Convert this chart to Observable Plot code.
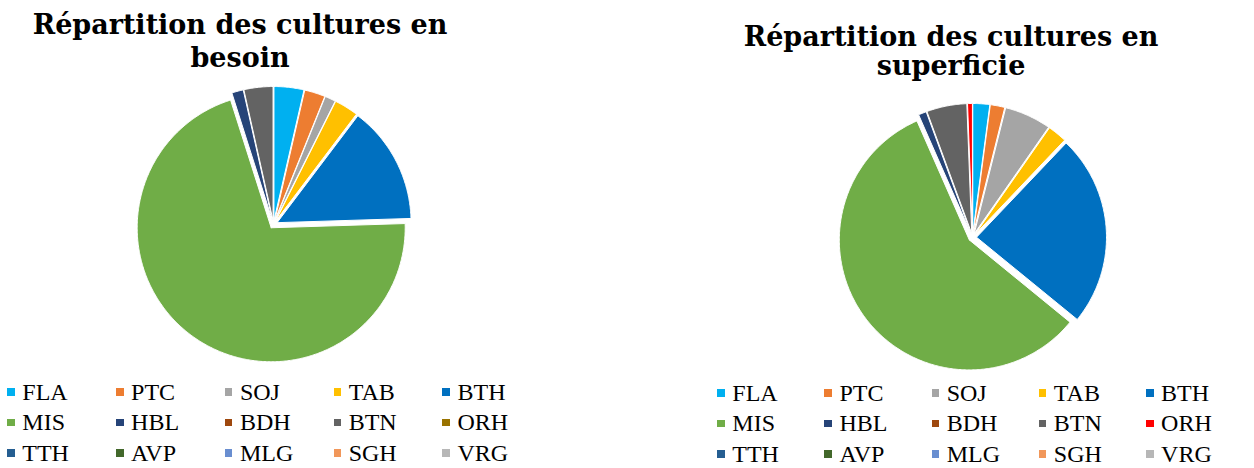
<!DOCTYPE html>
<html><head><meta charset="utf-8">
<script src="https://cdn.jsdelivr.net/npm/d3@7"></script>
<script src="https://cdn.jsdelivr.net/npm/@observablehq/plot@0.6"></script>
<style>
body{margin:0;width:1254px;height:468px;position:relative;overflow:hidden;background:#fff;}
.tline{position:absolute;width:600px;font-family:"DejaVu Serif",serif;font-weight:bold;font-size:27px;text-align:center;white-space:nowrap;line-height:32px;color:#000}
.legend{position:absolute;display:grid;grid-auto-rows:30.5px;font-family:"Liberation Serif","Times New Roman",Tinos,Times,serif;font-size:24px;color:#000}
.item{display:flex;align-items:center;line-height:30.5px;white-space:nowrap}
.sw{width:7.5px;height:7.5px;margin-right:7.5px;flex:none}
.pie{position:absolute}
</style></head><body>
<script>
// ---- data ----
const categories = ["FLA","PTC","SOJ","TAB","BTH","MIS","HBL","BDH","BTN","ORH","TTH","AVP","MLG","SGH","VRG"];
const besoinValues     = [3.6, 2.5, 1.3, 2.9, 14.2, 70.6, 1.4, 0, 3.5, 0, 0, 0, 0, 0, 0];
const superficieValues = [2.1, 1.8, 5.8, 2.4, 23.8, 57.5, 1.0, 0, 5.0, 0.6, 0, 0, 0, 0, 0];
const colorsBesoin     = ["#00B0F0","#ED7D31","#A5A5A5","#FFC000","#0070C0","#70AD47","#264478","#9E480E","#636363","#997300","#255E91","#43682B","#698ED0","#F1975A","#B7B7B7"];
const colorsSuperficie = ["#00B0F0","#ED7D31","#A5A5A5","#FFC000","#0070C0","#70AD47","#264478","#9E480E","#636363","#FF0000","#255E91","#43682B","#698ED0","#F1975A","#B7B7B7"];
const titleBesoin     = ["Répartition des cultures en", "besoin"];
const titleSuperficie = ["Répartition des cultures en", "superficie"];

// ---- layout ----
const charts = [
  {values: besoinValues, colors: colorsBesoin, title: titleBesoin, cx: 272.5, cy: 223.5, R: 134, d: 4,
   tcx: 240, tb: [34, 67], lx: 7.3, ly: 376.7, col: 108.8},
  {values: superficieValues, colors: colorsSuperficie, title: titleSuperficie, cx: 972, cy: 236.5, R: 130, d: 4,
   tcx: 951, tb: [46, 75], lx: 717.3, ly: 377.7, col: 107.2}
];

function piePoints(values, R, d) {
  const arcs = d3.pie().sort(null).value(v => v)(values);
  const pts = [];
  arcs.forEach((a, i) => {
    if (!(a.data > 0)) return;
    const cat = categories[i];
    const mid = (a.startAngle + a.endAngle) / 2;
    const ox = d * Math.sin(mid), oy = d * Math.cos(mid);
    pts.push({cat, x: ox, y: oy});
    const n = Math.max(2, Math.ceil((a.endAngle - a.startAngle) / 0.01));
    for (let k = 0; k <= n; k++) {
      const t = a.startAngle + (a.endAngle - a.startAngle) * k / n;
      pts.push({cat, x: ox + R * Math.sin(t), y: oy + R * Math.cos(t)});
    }
    pts.push({cat, x: ox, y: oy});
  });
  return pts;
}

const S = 300;
charts.forEach(c => {
  c.title.forEach((line, j) => {
    const div = document.createElement("div");
    div.className = "tline";
    div.textContent = line;
    div.style.left = (c.tcx - 300) + "px";
    div.style.top = (c.tb[j] - 25.4) + "px";
    document.body.appendChild(div);
  });
  const pts = piePoints(c.values, c.R, c.d);
  const svg = Plot.plot({
    width: S, height: S, margin: 0,
    x: {domain: [-S/2, S/2], axis: null},
    y: {domain: [-S/2, S/2], axis: null},
    color: {type: "ordinal", domain: categories, range: c.colors},
    marks: [
      Plot.line(pts, {x: "x", y: "y", z: "cat", fill: "cat", stroke: "white", strokeWidth: 1, curve: "linear"})
    ]
  });
  const wrap = document.createElement("div");
  wrap.className = "pie";
  wrap.style.left = (c.cx - S/2) + "px";
  wrap.style.top = (c.cy - S/2) + "px";
  wrap.appendChild(svg);
  document.body.appendChild(wrap);
  const lg = document.createElement("div");
  lg.className = "legend";
  lg.style.left = c.lx + "px";
  lg.style.top = c.ly + "px";
  lg.style.gridTemplateColumns = `repeat(5, ${c.col}px)`;
  categories.forEach((cat, i) => {
    const it = document.createElement("div");
    it.className = "item";
    const sw = document.createElement("span");
    sw.className = "sw";
    sw.style.background = c.colors[i];
    const tx = document.createElement("span");
    tx.textContent = cat;
    it.appendChild(sw); it.appendChild(tx);
    lg.appendChild(it);
  });
  document.body.appendChild(lg);
});
</script>
</body></html>
